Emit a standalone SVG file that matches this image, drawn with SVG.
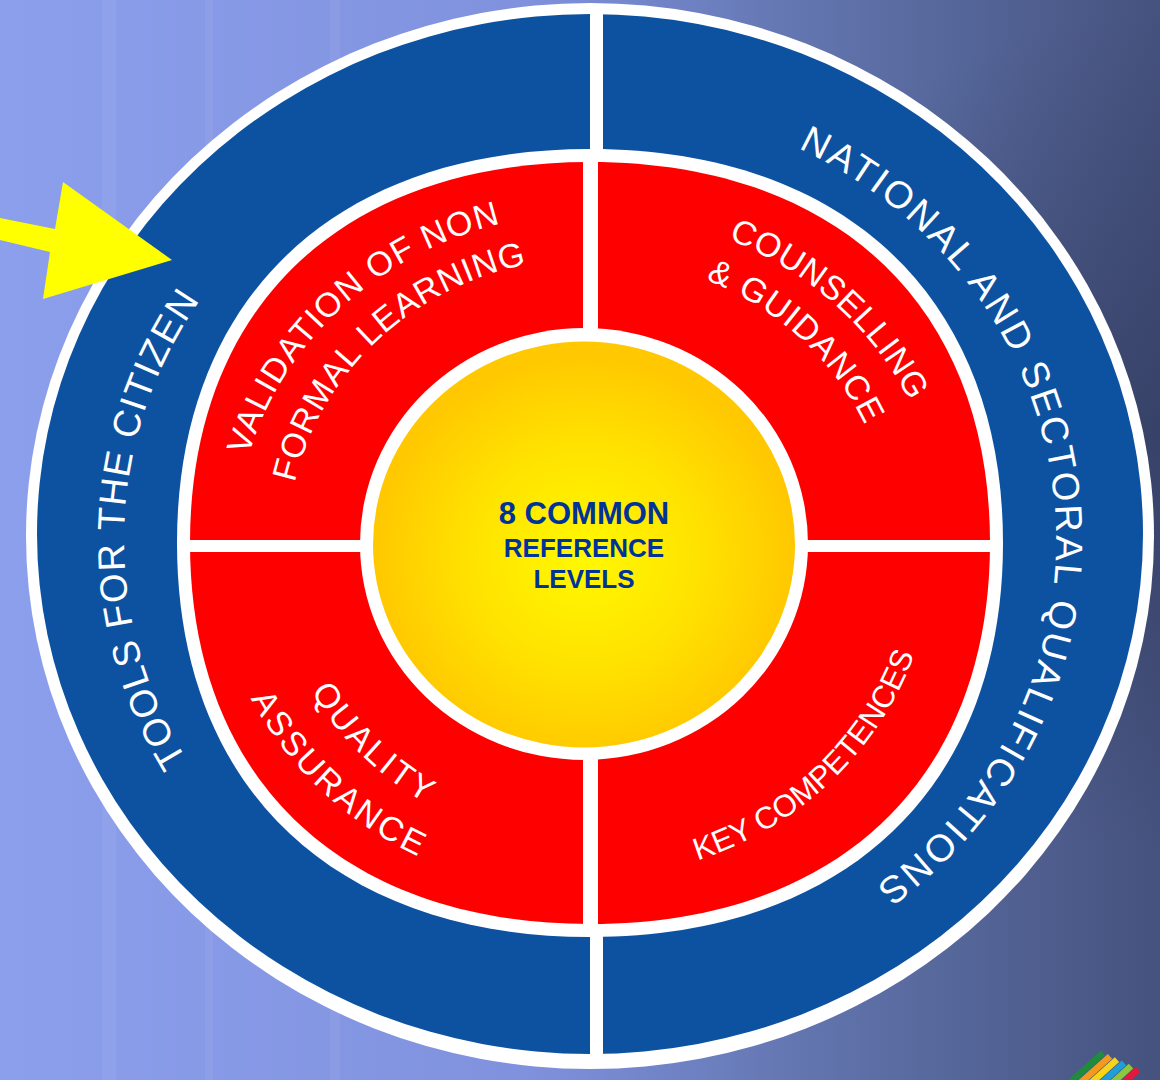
<svg xmlns="http://www.w3.org/2000/svg" width="1160" height="1080" viewBox="0 0 1160 1080">
<style>
.ring{font-family:"Liberation Sans",Arial,sans-serif;font-size:38px;fill:#ffffff}
.quad{font-family:"Liberation Sans",Arial,sans-serif;font-size:34px;fill:#ffffff}
.quad.small{font-size:31px}
.core{font-family:"Liberation Sans",Arial,sans-serif;font-weight:bold;fill:#003399;text-anchor:middle}
.wh{fill:#ffffff}
</style>
<defs>
<linearGradient id="bg" x1="0" y1="0" x2="1" y2="0">
<stop offset="0" stop-color="#8C9FEC"/>
<stop offset="0.45" stop-color="#8092DE"/>
<stop offset="0.72" stop-color="#5F72AA"/>
<stop offset="1" stop-color="#45527E"/>
</linearGradient>
<radialGradient id="dark" cx="1160" cy="430" r="420" gradientUnits="userSpaceOnUse">
<stop offset="0" stop-color="#2C3556" stop-opacity="0.55"/>
<stop offset="1" stop-color="#2C3556" stop-opacity="0"/>
</radialGradient>
<radialGradient id="sun" cx="0.5" cy="0.53" r="0.5">
<stop offset="0" stop-color="#FFF900"/>
<stop offset="0.55" stop-color="#FFE200"/>
<stop offset="1" stop-color="#FFC800"/>
</radialGradient>
<path id="pTools" d="M497.1 969.2 A466 438 0 0 1 521.1 106.8"/>
<path id="pNational" d="M627.4 103.4 A466 438 0 0 1 713.8 962.3"/>
<path id="pValid" d="M303.6 736.9 A354 330 0 0 1 788 269.4"/>
<path id="pFormal" d="M345.7 710.5 A302 285 0 0 1 758.9 306.7"/>
<path id="pCouns" d="M389.5 271 A354 330 0 0 1 878.2 734.6"/>
<path id="pGuid" d="M419 308.1 A302 285 0 0 1 835.9 708.5"/>
<path id="pQual" d="M334.4 360.7 A320 303 0 0 0 764.3 797.1"/>
<path id="pAssur" d="M288.1 331.2 A378 352 0 0 0 795.9 838.2"/>
<path id="pKey" d="M392.7 816.6 A344 334 0 0 0 871.8 351.4"/>
</defs>

<g id="background">
<rect x="0" y="0" width="1160" height="1080" fill="url(#bg)"/>
<rect x="0" y="0" width="1160" height="1080" fill="url(#dark)"/>
<rect x="102" y="0" width="14" height="1080" fill="#ffffff" opacity="0.05"/>
<rect x="205" y="0" width="8" height="1080" fill="#ffffff" opacity="0.05"/>
<rect x="330" y="0" width="10" height="1080" fill="#ffffff" opacity="0.05"/>
</g>

<g id="outer-ring">
<ellipse cx="590" cy="536" rx="564" ry="533" class="wh"/>
<ellipse cx="590" cy="534" rx="553" ry="520" fill="#0D52A1"/>
<rect x="590" y="6" width="13" height="1058" class="wh"/>
<text class="ring" letter-spacing="1.2"><textPath href="#pTools" startOffset="50%" text-anchor="middle">TOOLS FOR THE CITIZEN</textPath></text>
<text class="ring" letter-spacing="2.5"><textPath href="#pNational" startOffset="50%" text-anchor="middle">NATIONAL AND SECTORAL QUALIFICATIONS</textPath></text>
</g>

<g id="quadrants">
<path class="wh" d="M1003 543 C1003 787.3 846 937 590 937 C334 937 177 787.3 177 543 C177 298.7 334 149 590 149 C846 149 1003 298.7 1003 543 Z"/>
<path fill="#FF0000" d="M990 543 C990 779.2 838 924 590 924 C342 924 190 779.2 190 543 C190 306.8 342 162 590 162 C838 162 990 306.8 990 543 Z"/>
<rect x="583" y="150" width="15" height="786" class="wh"/>
<rect x="178" y="540" width="824" height="12" class="wh"/>
</g>

<g id="q-validation">
<text class="quad" letter-spacing="1.2"><textPath href="#pValid" startOffset="50%" text-anchor="middle">VALIDATION OF NON</textPath></text>
<text class="quad" letter-spacing="0.9"><textPath href="#pFormal" startOffset="50%" text-anchor="middle">FORMAL LEARNING</textPath></text>
</g>
<g id="q-counselling">
<text class="quad" letter-spacing="0.5"><textPath href="#pCouns" startOffset="50%" text-anchor="middle">COUNSELLING</textPath></text>
<text class="quad" letter-spacing="1"><textPath href="#pGuid" startOffset="50%" text-anchor="middle">&amp; GUIDANCE</textPath></text>
</g>
<g id="q-quality">
<text class="quad" letter-spacing="2.7"><textPath href="#pQual" startOffset="50%" text-anchor="middle">QUALITY</textPath></text>
<text class="quad" letter-spacing="2.8"><textPath href="#pAssur" startOffset="50%" text-anchor="middle">ASSURANCE</textPath></text>
</g>
<g id="q-key">
<text class="quad small" letter-spacing="0"><textPath href="#pKey" startOffset="50%" text-anchor="middle">KEY COMPETENCES</textPath></text>
</g>

<g id="center">
<ellipse cx="584" cy="544" rx="224" ry="216" class="wh"/>
<ellipse cx="584" cy="544.5" rx="211" ry="203" fill="url(#sun)"/>
<text class="core" x="584" y="524" font-size="31">8 COMMON</text>
<text class="core" x="584" y="557" font-size="26">REFERENCE</text>
<text class="core" x="584" y="588" font-size="26">LEVELS</text>
</g>

<g id="arrow">
<polygon points="0,218 55,229 63,182 172,260 43,299 50,252 0,240" fill="#FFFF00"/>
</g>

<g id="logo" stroke-width="6.5" fill="none">
<line x1="1103" y1="1053" x2="1067.4" y2="1085" stroke="#1E8C3C"/>
<line x1="1110" y1="1056.3" x2="1078.1" y2="1085" stroke="#F39A1E"/>
<line x1="1117" y1="1059.6" x2="1088.8" y2="1085" stroke="#F7D417"/>
<line x1="1124" y1="1062.9" x2="1099.4" y2="1085" stroke="#1E9FD8"/>
<line x1="1131" y1="1066.2" x2="1110.1" y2="1085" stroke="#8DC63F"/>
<line x1="1138" y1="1069.5" x2="1120.8" y2="1085" stroke="#E2183C"/>
</g>
</svg>
